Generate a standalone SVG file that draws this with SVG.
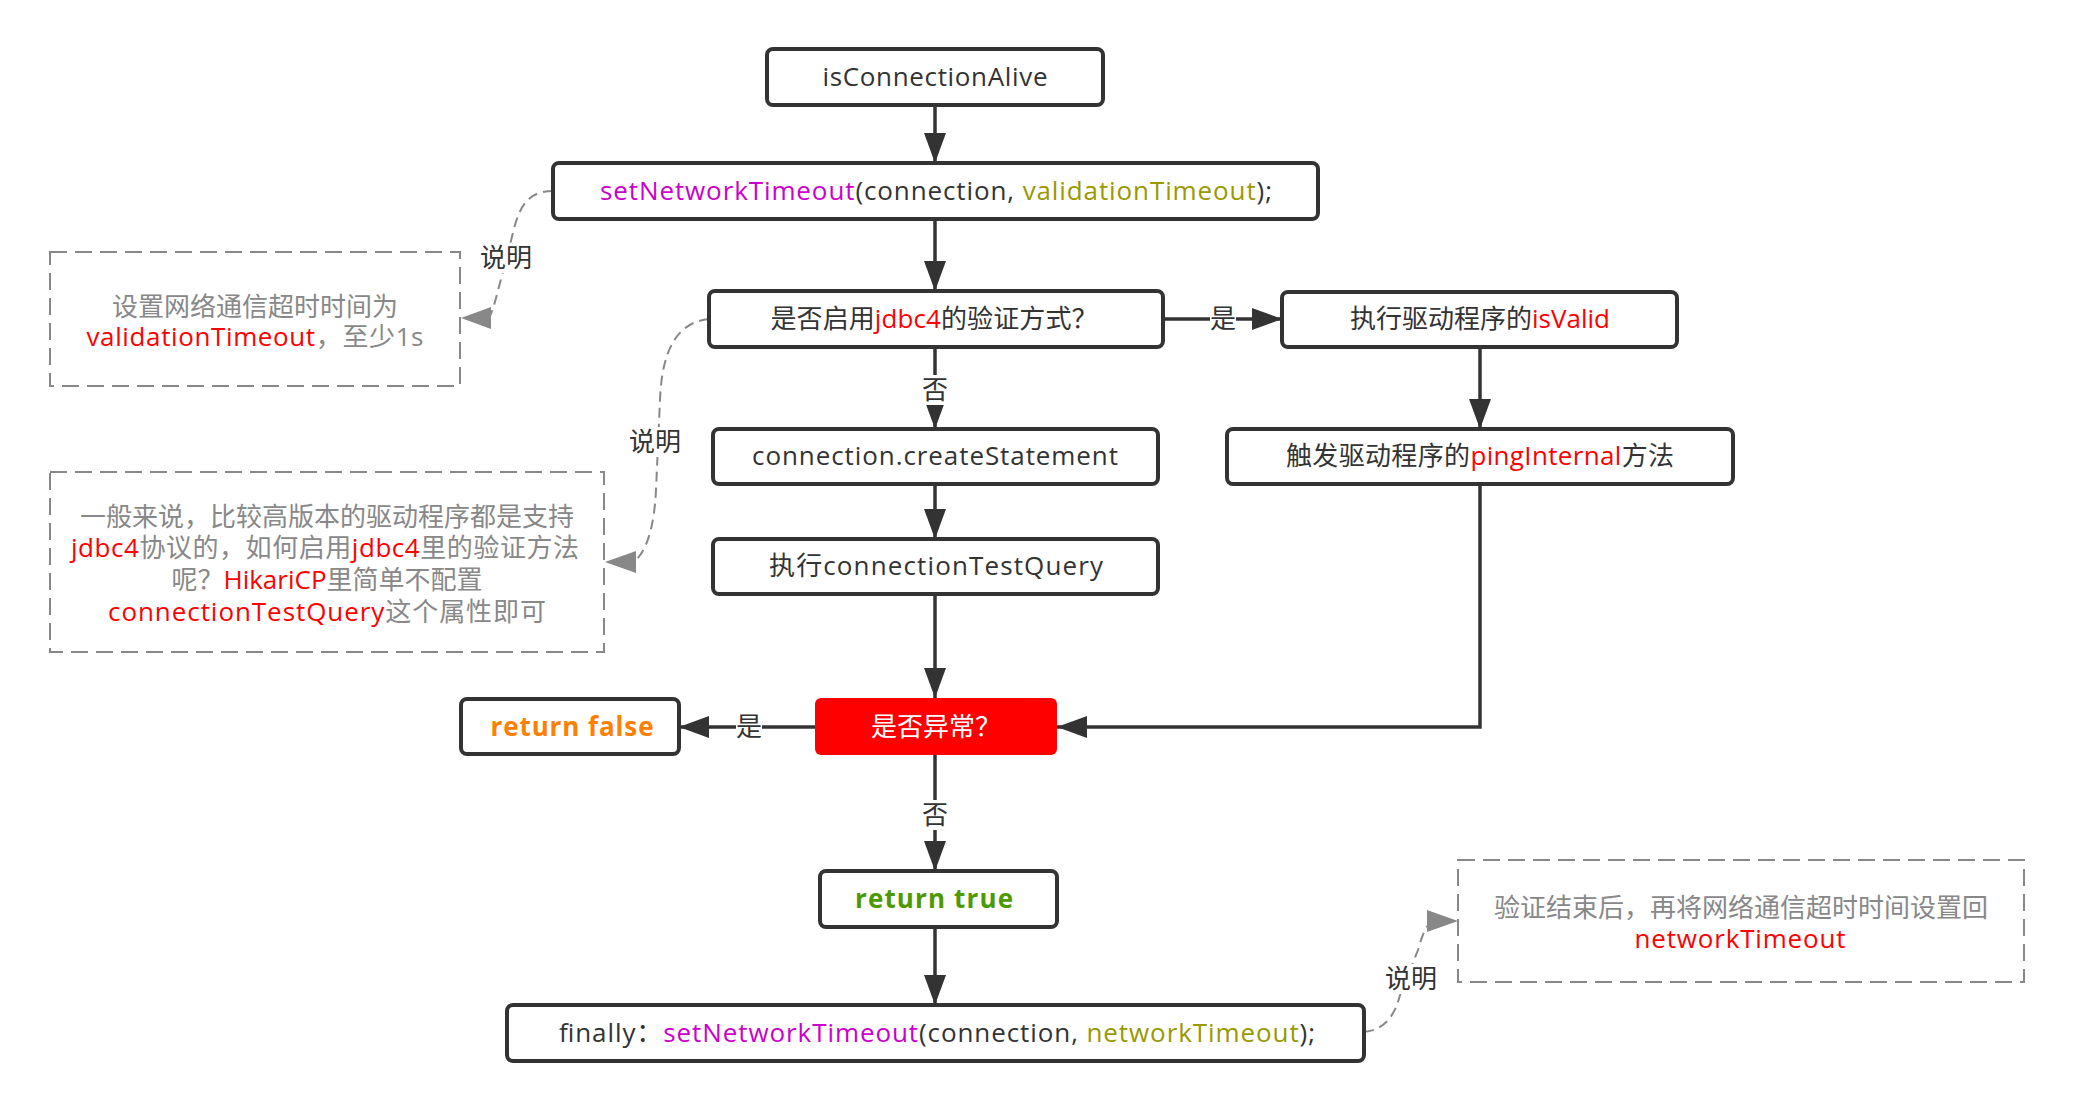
<svg xmlns="http://www.w3.org/2000/svg" width="2074" height="1110" viewBox="0 0 2074 1110">
<defs>
<style>
text{font-family:"Open Sans","Noto Sans CJK SC",sans-serif;font-size:26px;fill:#333;}
.box{fill:#fff;stroke:#333;stroke-width:4;}
.note{fill:none;stroke:#888;stroke-width:2;stroke-dasharray:17 8;}
.edge{fill:none;stroke:#333;stroke-width:3.5;}
.dedge{fill:none;stroke:#888;stroke-width:2;stroke-dasharray:10 6;}
.ghead{fill:#888;}
.c{text-anchor:middle;}
.g{fill:#888;}
.r{fill:#ff0000;}
.m{fill:#cc00cc;}
.o{fill:#999900;}
.b{font-weight:bold;}
.lbg{fill:#fff;}
</style>
<marker id="arr" viewBox="0 0 30 22" refX="30" refY="11" markerWidth="30" markerHeight="22" markerUnits="userSpaceOnUse" orient="auto">
<path d="M0,0 L30,11 L0,22 z" fill="#333"/>
</marker>
</defs>
<rect width="2074" height="1110" fill="#fff"/>

<g id="connectors">
<path class="edge" d="M935,105 V163" marker-end="url(#arr)"/>
<path class="edge" d="M935,219 V291" marker-end="url(#arr)"/>
<path class="edge" d="M1163,319 H1282" marker-end="url(#arr)"/>
<path class="edge" d="M935,347 V429" marker-end="url(#arr)"/>
<path class="edge" d="M935,484 V539" marker-end="url(#arr)"/>
<path class="edge" d="M935,594 V698" marker-end="url(#arr)"/>
<path class="edge" d="M1480,347 V429" marker-end="url(#arr)"/>
<path class="edge" d="M1480,484 V727 H1057" marker-end="url(#arr)"/>
<path class="edge" d="M815,727 H679" marker-end="url(#arr)"/>
<path class="edge" d="M935,755 V871" marker-end="url(#arr)"/>
<path class="edge" d="M935,927 V1005" marker-end="url(#arr)"/>

<path class="dedge" d="M553,191 C522,191 517,215 510,245 L496,298 Q492,313 489,318"/>
<polygon class="ghead" points="461,318 491,307 491,329"/>
<path class="dedge" d="M709,319 C680,322 662,345 660,400 L656,490 C654,530 646,550 636,560"/>
<polygon class="ghead" points="605,562 636,551 636,573"/>
<path class="dedge" d="M1364,1032 C1385,1030 1395,1015 1400,995 L1418,950 C1422,935 1426,927 1430,923"/>
<polygon class="ghead" points="1458,921 1427,910 1427,932"/>

<rect class="lbg" x="1210" y="304" width="26" height="30"/>
<text class="c" x="1223" y="328">是</text>
<rect class="lbg" x="922" y="375" width="26" height="30"/>
<text class="c" x="935" y="399">否</text>
<rect class="lbg" x="736" y="712" width="26" height="30"/>
<text class="c" x="749" y="736">是</text>
<rect class="lbg" x="922" y="800" width="26" height="30"/>
<text class="c" x="935" y="824">否</text>
<rect class="lbg" x="480" y="243" width="52" height="30"/>
<text class="c" x="506" y="267">说明</text>
<rect class="lbg" x="629" y="427" width="52" height="30"/>
<text class="c" x="655" y="451">说明</text>
<rect class="lbg" x="1385" y="964" width="52" height="30"/>
<text class="c" x="1411" y="988">说明</text>
</g>

<g id="n-isConnectionAlive">
<rect class="box" x="767" y="49" width="336" height="56" rx="6"/>
<text class="c" x="935" y="86" textLength="225">isConnectionAlive</text>
</g>
<g id="n-setNetworkTimeout">
<rect class="box" x="553" y="163" width="765" height="56" rx="6"/>
<text class="c" x="936" y="200" textLength="672"><tspan class="m">setNetworkTimeout</tspan>(connection, <tspan class="o">validationTimeout</tspan>);</text>
</g>
<g id="n-jdbc4">
<rect class="box" x="709" y="291" width="454" height="56" rx="6"/>
<text class="c" x="934" y="328" textLength="327">是否启用<tspan class="r">jdbc4</tspan>的验证方式？</text>
</g>
<g id="n-isValid">
<rect class="box" x="1282" y="292" width="395" height="55" rx="6"/>
<text class="c" x="1480" y="328">执行驱动程序的<tspan class="r">isValid</tspan></text>
</g>
<g id="n-createStatement">
<rect class="box" x="713" y="429" width="445" height="55" rx="6"/>
<text class="c" x="935" y="465" textLength="366">connection.createStatement</text>
</g>
<g id="n-pingInternal">
<rect class="box" x="1227" y="429" width="506" height="55" rx="6"/>
<text class="c" x="1480" y="465" textLength="388">触发驱动程序的<tspan class="r">pingInternal</tspan>方法</text>
</g>
<g id="n-testQuery">
<rect class="box" x="713" y="539" width="445" height="55" rx="6"/>
<text class="c" x="936" y="575" textLength="334">执行connectionTestQuery</text>
</g>
<g id="n-exception">
<rect x="815" y="698" width="242" height="57" rx="6" fill="#ff0000"/>
<text class="c" x="936" y="736" style="fill:#fff">是否异常？</text>
</g>
<g id="n-returnFalse">
<rect class="box" x="461" y="699" width="218" height="55" rx="6"/>
<text class="c b" x="572" y="736" style="fill:#ff8000" textLength="163">return false</text>
</g>
<g id="n-returnTrue">
<rect class="box" x="820" y="871" width="237" height="56" rx="6"/>
<text class="c b" x="934" y="908" style="fill:#4d9900" textLength="158">return true</text>
</g>
<g id="n-finally">
<rect class="box" x="507" y="1005" width="857" height="56" rx="6"/>
<text class="c" x="937" y="1042" textLength="756">finally：<tspan class="m">setNetworkTimeout</tspan>(connection, <tspan class="o">networkTimeout</tspan>);</text>
</g>

<g id="note-1">
<rect class="note" x="50" y="252" width="410" height="134"/>
<text class="c g" x="255" y="316">设置网络通信超时时间为</text>
<text class="c g" x="255" y="346" textLength="337"><tspan class="r">validationTimeout</tspan>，至少1s</text>
</g>
<g id="note-2">
<rect class="note" x="50" y="472" width="554" height="180"/>
<text class="c g" x="327" y="526">一般来说，比较高版本的驱动程序都是支持</text>
<text class="c g" x="325" y="557" textLength="508"><tspan class="r">jdbc4</tspan>协议的，如何启用<tspan class="r">jdbc4</tspan>里的验证方法</text>
<text class="c g" x="327" y="589">呢？<tspan class="r">HikariCP</tspan>里简单不配置</text>
<text class="c g" x="327" y="621" textLength="438"><tspan class="r">connectionTestQuery</tspan>这个属性即可</text>
</g>
<g id="note-3">
<rect class="note" x="1458" y="860" width="566" height="122"/>
<text class="c g" x="1741" y="917">验证结束后，再将网络通信超时时间设置回</text>
<text class="c g" x="1740" y="948" textLength="211"><tspan class="r">networkTimeout</tspan></text>
</g>
</svg>
